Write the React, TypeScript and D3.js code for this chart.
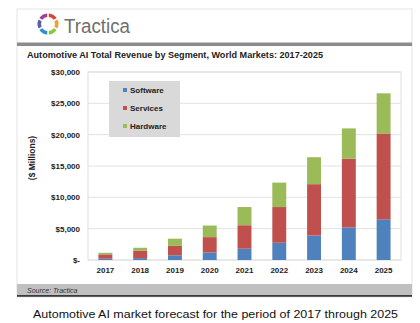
import React from "react";
import * as d3 from "d3";

const years = ["2017", "2018", "2019", "2020", "2021", "2022", "2023", "2024", "2025"];
const software = [200, 300, 750, 1200, 1800, 2750, 3900, 5200, 6500];
const services = [700, 1200, 1500, 2450, 3750, 5700, 8200, 10950, 13700];
const hardware = [250, 450, 1150, 1850, 2900, 3900, 4300, 4850, 6400];
const seriesNames = ["Software", "Services", "Hardware"];
const seriesColors = ["#4f81bd", "#c0504d", "#9bbb59"];
const yTicks = [0, 5000, 10000, 15000, 20000, 25000, 30000];

export default function App() {
  const W = 420, H = 323;
  const left = 88, right = 401, top = 72, bottom = 260;
  const x = d3.scaleBand<string>().domain(years).range([left, right]).paddingInner(0.6).paddingOuter(0.3);
  const y = d3.scaleLinear().domain([0, 30000]).range([bottom, top]);
  const rows = years.map((yr, i) => ({ year: yr, Software: software[i], Services: services[i], Hardware: hardware[i] }));
  const stack = d3.stack<any>().keys(seriesNames)(rows);
  const fmt = (v: number) => (v === 0 ? "$-" : "$" + d3.format(",")(v));
  const font = "Arial, 'Liberation Sans', sans-serif";
  const logoColors = ["#d9443a", "#f0a030", "#8cc63e", "#2f8fcf", "#5b5ea6", "#a0408f"];
  const arc = d3.arc<any>();
  const segs = d3.pie<number>().value(1).sort(null).padAngle(0.12)(logoColors.map(() => 1));

  return (
    <svg width={W} height={H} style={{ position: "absolute", left: 0, top: 0, background: "#fff" }}>
      <rect x={17} y={9} width={395} height={288} fill="#fff" stroke="#e4e4e4" strokeWidth={1} />
      <g transform="translate(48,24)">
        {segs.map((s, i) => (
          <path key={i} d={arc({ ...s, innerRadius: 7, outerRadius: 10.5 }) || ""} fill={logoColors[i]} />
        ))}
      </g>
      <text x={64} y={33} fontFamily={font} fontSize={20} fill="#707070" textLength={66} lengthAdjust="spacingAndGlyphs">Tractica</text>
      <rect x={17} y={42.5} width={395} height={3.5} fill="#8c8c8c" />
      <text x={27} y={58} fontFamily={font} fontSize={9} fontWeight="bold" fill="#222" textLength={296} lengthAdjust="spacingAndGlyphs">
        Automotive AI Total Revenue by Segment, World Markets: 2017-2025
      </text>
      <rect x={left} y={top} width={right - left} height={bottom - top} fill="#fff" stroke="#dedede" />
      {yTicks.map((t) => (
        <g key={t}>
          <line x1={left} x2={right} y1={y(t)} y2={y(t)} stroke="#e2e2e2" />
          <text x={80} y={y(t) + 3} textAnchor="end" fontFamily={font} fontSize={8} fontWeight="bold" fill="#222">
            {fmt(t)}
          </text>
        </g>
      ))}
      <text transform={`translate(35,158) rotate(-90)`} textAnchor="middle" fontFamily={font} fontSize={8.5} fontWeight="bold" fill="#222">
        ($ Millions)
      </text>
      {stack.map((layer, si) => (
        <g key={si} fill={seriesColors[si]}>
          {layer.map((d, i) => (
            <rect key={i} x={x(years[i])!} width={x.bandwidth()} y={y(d[1])} height={y(d[0]) - y(d[1])} />
          ))}
        </g>
      ))}
      {years.map((yr) => (
        <text key={yr} x={x(yr)! + x.bandwidth() / 2} y={273} textAnchor="middle" fontFamily={font} fontSize={8} fontWeight="bold" fill="#222">
          {yr}
        </text>
      ))}
      <rect x={109} y={81} width={71} height={56} fill="#d9d9d9" />
      {seriesNames.map((n, i) => (
        <g key={n}>
          <rect x={123} y={88 + i * 18} width={4} height={4} fill={seriesColors[i]} />
          <text x={130} y={93 + i * 18} fontFamily={font} fontSize={8} fontWeight="bold" fill="#222">{n}</text>
        </g>
      ))}
      <rect x={17} y={284} width={395} height={11} fill="#c0c0c0" />
      <rect x={17} y={295} width={395} height={1.8} fill="#3a3a3a" />
      <text x={27} y={292.5} fontFamily={font} fontSize={7} fontStyle="italic" fill="#333">Source: Tractica</text>
      <text x={33} y={318} fontFamily={font} fontSize={11} fill="#111" textLength={365} lengthAdjust="spacingAndGlyphs">
        Automotive AI market forecast for the period of 2017 through 2025
      </text>
    </svg>
  );
}
